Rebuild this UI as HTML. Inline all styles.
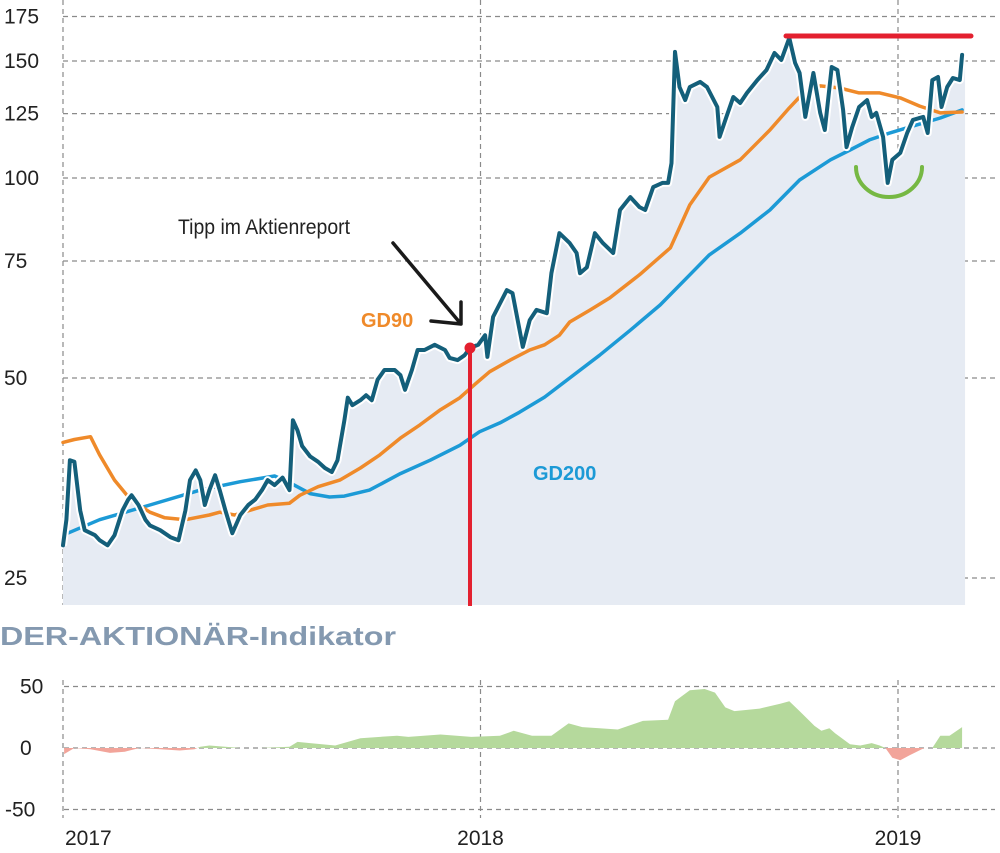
<!DOCTYPE html>
<html><head><meta charset="utf-8">
<style>
html,body{margin:0;padding:0;background:#fff;}
svg{display:block;font-family:"Liberation Sans",sans-serif;}
</style></head>
<body>
<svg id="chart" width="1000" height="853" viewBox="0 0 1000 853">
<defs>
<clipPath id="clipPos"><rect x="0" y="0" width="1000" height="748"/></clipPath>
<clipPath id="clipNeg"><rect x="0" y="748" width="1000" height="105"/></clipPath>
</defs>
<g id="grid"></g>
<g id="marks"></g>
<g id="labels"></g>
</svg>
<script>
// days since 2017-01-01
const priceDays=[0,3,6,10,15,19,28,32,39,45,52,57,60,66,72,76,85,94,101,107,111,116,120,124,128,133,137,142,148,155,162,168,174,179,185,192,198,201,205,209,216,223,229,235,240,246,249,253,260,265,270,275,281,290,295,299,305,310,316,325,334,338,345,351,356,363,369,371,376,388,393,402,408,414,423,427,434,443,449,452,458,465,472,481,487,496,504,509,516,524,529,532,535,539,544,548,557,563,572,574,580,586,592,598,607,615,622,628,635,640,644,649,656,662,666,672,677,682,685,690,696,703,707,711,717,721,725,732,738,743,752,756,760,765,768,773,778,784,786];
const priceValues=[28.0,30.6,37.6,37.4,31.6,29.5,29.0,28.5,28.0,29.0,31.6,32.8,33.3,32.2,30.6,30.0,29.5,28.8,28.5,31.6,35.1,36.3,35.1,32.2,33.9,35.7,33.9,31.6,29.2,31.1,32.2,32.8,33.9,35.1,34.5,35.4,33.9,43.2,41.7,39.5,38.1,37.4,36.6,36.1,37.6,43.2,46.7,45.5,46.3,47.1,46.3,49.7,51.4,51.4,50.5,48.0,51.4,55.1,55.1,56.1,55.1,53.6,53.2,54.1,55.5,56.1,58.0,53.8,61.8,67.8,67.1,55.7,61.1,63.3,62.6,71.9,82.6,79.8,77.1,71.9,73.4,82.6,79.8,77.1,89.5,93.6,90.4,89.5,96.9,98.3,98.3,105.3,154.8,137.1,131.0,137.1,139.5,137.1,127.9,115.3,123.6,132.4,129.7,134.3,140.4,145.4,154.2,150.5,162.5,149.0,143.9,123.6,143.9,125.3,118.1,146.9,145.4,126.6,111.3,119.3,127.9,131.0,123.6,125.3,115.3,98.3,106.5,109.1,116.9,122.3,123.6,116.9,140.4,141.9,127.9,137.1,141.4,140.4,153.2];
const gd90Days=[0,10,24,32,45,59,76,89,107,128,137,150,163,179,198,207,223,242,260,277,295,312,330,347,360,373,391,408,421,434,443,461,478,504,531,548,565,592,618,635,644,662,679,696,714,732,749,767,786];
const gd90Values=[40.0,40.4,40.8,38.3,35.1,32.8,31.4,30.8,30.6,31.1,31.4,31.1,31.6,32.2,32.4,33.3,34.3,35.1,36.6,38.3,40.6,42.5,44.8,46.7,48.9,51.1,53.2,55.1,56.1,58.0,60.7,63.3,66.0,71.5,78.5,91.1,100.3,106.5,118.1,127.5,132.4,137.6,136.6,134.3,134.3,132.0,128.3,125.3,125.7];
const gd200Days=[0,32,76,120,155,185,198,216,233,246,268,295,321,347,364,382,399,421,443,469,496,522,548,565,592,618,644,671,688,705,723,740,767,786];
const gd200Values=[29.0,30.6,32.2,33.9,34.9,35.6,34.8,33.5,33.1,33.2,33.9,35.9,37.6,39.6,41.5,42.8,44.4,46.8,50.0,54.1,59.0,64.4,71.5,76.6,82.6,89.5,99.3,106.5,110.2,114.1,116.9,119.3,123.1,126.6];
const indDays=[1,10,24,41,54,67,85,102,115,120,128,142,155,172,198,205,216,238,260,292,302,330,357,382,394,410,427,442,454,469,485,507,529,535,548,561,570,579,587,609,627,635,644,657,663,670,675,688,697,707,714,719,725,732,740,753,760,767,775,786];
const indValues=[-5,0,-1,-4,-3,0,-1,-2,-1,1,2,1,0,0,1,5,4,2,8,10,9,11,9,10,14,10,10,20,17,16,15,22,23,38,47,48,45,33,30,32,36,38,30,18,14,16,12,3,2,4,2,0,-8,-10,-6,0,0,10,10,17];
const priceTicks=[25,50,75,100,125,150,175];
const indTicks=[50,0,-50];
const yearLabels=["2017","2018","2019"];
const yearDays=[0,365,730];

const NS="http://www.w3.org/2000/svg";
const X0=63, PX_PER_DAY=417.5/365;
function xs(d){return X0+d*PX_PER_DAY;}
function ys(v){return 178-200*Math.log2(v/100);}
function yi(v){return 748-v*1.23;}
function mk(tag,attrs,parent){const e=document.createElementNS(NS,tag);for(const k in attrs)e.setAttribute(k,attrs[k]);parent.appendChild(e);return e;}
const grid=document.getElementById('grid'),marks=document.getElementById('marks'),labels=document.getElementById('labels');

priceTicks.forEach(t=>{
  const l=mk('line',{x1:63,x2:995,y1:ys(t),y2:ys(t),stroke:'#8a8a8a','stroke-width':1.2,'stroke-dasharray':'5,4'},grid);
  
  
  const tx=mk('text',{x:4,y:ys(t)+7,'font-size':21,fill:'#222'},labels);
  tx.textContent=t;
  
  
});
indTicks.forEach(t=>{
  const l=mk('line',{x1:64,x2:995,y1:yi(t),y2:yi(t),stroke:'#8a8a8a','stroke-width':1.2,'stroke-dasharray':'5,4'},grid);
  
  
  const tx=mk('text',{x:t<0?5:20,y:yi(t)+7,'font-size':21,fill:'#222'},labels);
  tx.textContent=t;
  
  
});
yearDays.forEach((d,i)=>{
  const x=xs(d);
  const a=mk('line',{x1:x,x2:x,y1:0,y2:605,stroke:'#8a8a8a','stroke-width':1.2,'stroke-dasharray':'5,4'},grid);
  
  
  const b=mk('line',{x1:x,x2:x,y1:680,y2:818,stroke:'#8a8a8a','stroke-width':1.2,'stroke-dasharray':'5,4'},grid);
  
  
  const tx=mk('text',{x:i==0?x+2:x,y:845,'font-size':21,fill:'#222','text-anchor':i==0?'start':'middle'},labels);
  tx.textContent=yearLabels[i];
  
  
});

let pd=priceDays.map((d,i)=>xs(d).toFixed(1)+','+ys(priceValues[i]).toFixed(1)).join(' L');
const lastX=xs(priceDays[priceDays.length-1])+3;
const area=mk('path',{d:'M'+xs(0)+',605 L'+pd+' L'+lastX+','+ys(priceValues[priceValues.length-1]).toFixed(1)+' L'+lastX+',605 Z',fill:'#e6ebf3'},marks);


function line(days,vals,color,w,name){
  const p=mk('path',{d:'M'+days.map((d,i)=>xs(d).toFixed(1)+','+ys(vals[i]).toFixed(1)).join(' L'),fill:'none',stroke:color,'stroke-width':w,'stroke-linejoin':'round','stroke-linecap':'round'},marks);
  
  
}
line(gd200Days,gd200Values,'#1c9ad6',3.5,'gd200-line');
line(gd90Days,gd90Values,'#ef8a2a',3.5,'gd90-line');
const halo=mk('path',{d:'M'+pd,fill:'none',stroke:'#fff','stroke-width':8,'stroke-linejoin':'round'},marks);


line(priceDays,priceValues,'#145f7a',4,'price-line');

let idp='M'+xs(indDays[0])+','+yi(0)+' L'+indDays.map((d,i)=>xs(d).toFixed(1)+','+yi(indValues[i]).toFixed(1)).join(' L')+' L'+xs(indDays[indDays.length-1])+','+yi(0)+' Z';
const ip=mk('path',{d:idp,fill:'#b5d99c','clip-path':'url(#clipPos)'},marks);


const ineg=mk('path',{d:idp,fill:'#f2a49a','clip-path':'url(#clipNeg)'},marks);


</script>
<svg width="1000" height="853" style="position:absolute;left:0;top:0">
  <line x1="470" y1="348" x2="470" y2="606" stroke="#e3202f" stroke-width="4"/>
  <circle cx="470" cy="348" r="5.5" fill="#e3202f"/>
  <line x1="786" y1="36" x2="971" y2="36" stroke="#e3202f" stroke-width="5" stroke-linecap="round"/>
  <path d="M856,167 A33,30 0 0 0 922,167" fill="none" stroke="#76b843" stroke-width="4" stroke-linecap="round"/>
  <path d="M393,243 L461,324 M461,324 L461,302 M461,324 L431,321" fill="none" stroke="#1a1a1a" stroke-width="3.5" stroke-linecap="round" stroke-linejoin="round"/>
  <text x="178" y="234" font-family="Liberation Sans, sans-serif" font-size="21" fill="#222" textLength="172" lengthAdjust="spacingAndGlyphs">Tipp im Aktienreport</text>
  <text x="361" y="327" font-family="Liberation Sans, sans-serif" font-size="20" font-weight="bold" fill="#ef8a2a">GD90</text>
  <text x="533" y="480" font-family="Liberation Sans, sans-serif" font-size="20" font-weight="bold" fill="#1c9ad6">GD200</text>
  <text x="0" y="645" font-family="Liberation Sans, sans-serif" font-size="26" font-weight="bold" fill="#8499b0" textLength="396" lengthAdjust="spacingAndGlyphs">DER-AKTIONÄR-Indikator</text>
</svg>
</body></html>
